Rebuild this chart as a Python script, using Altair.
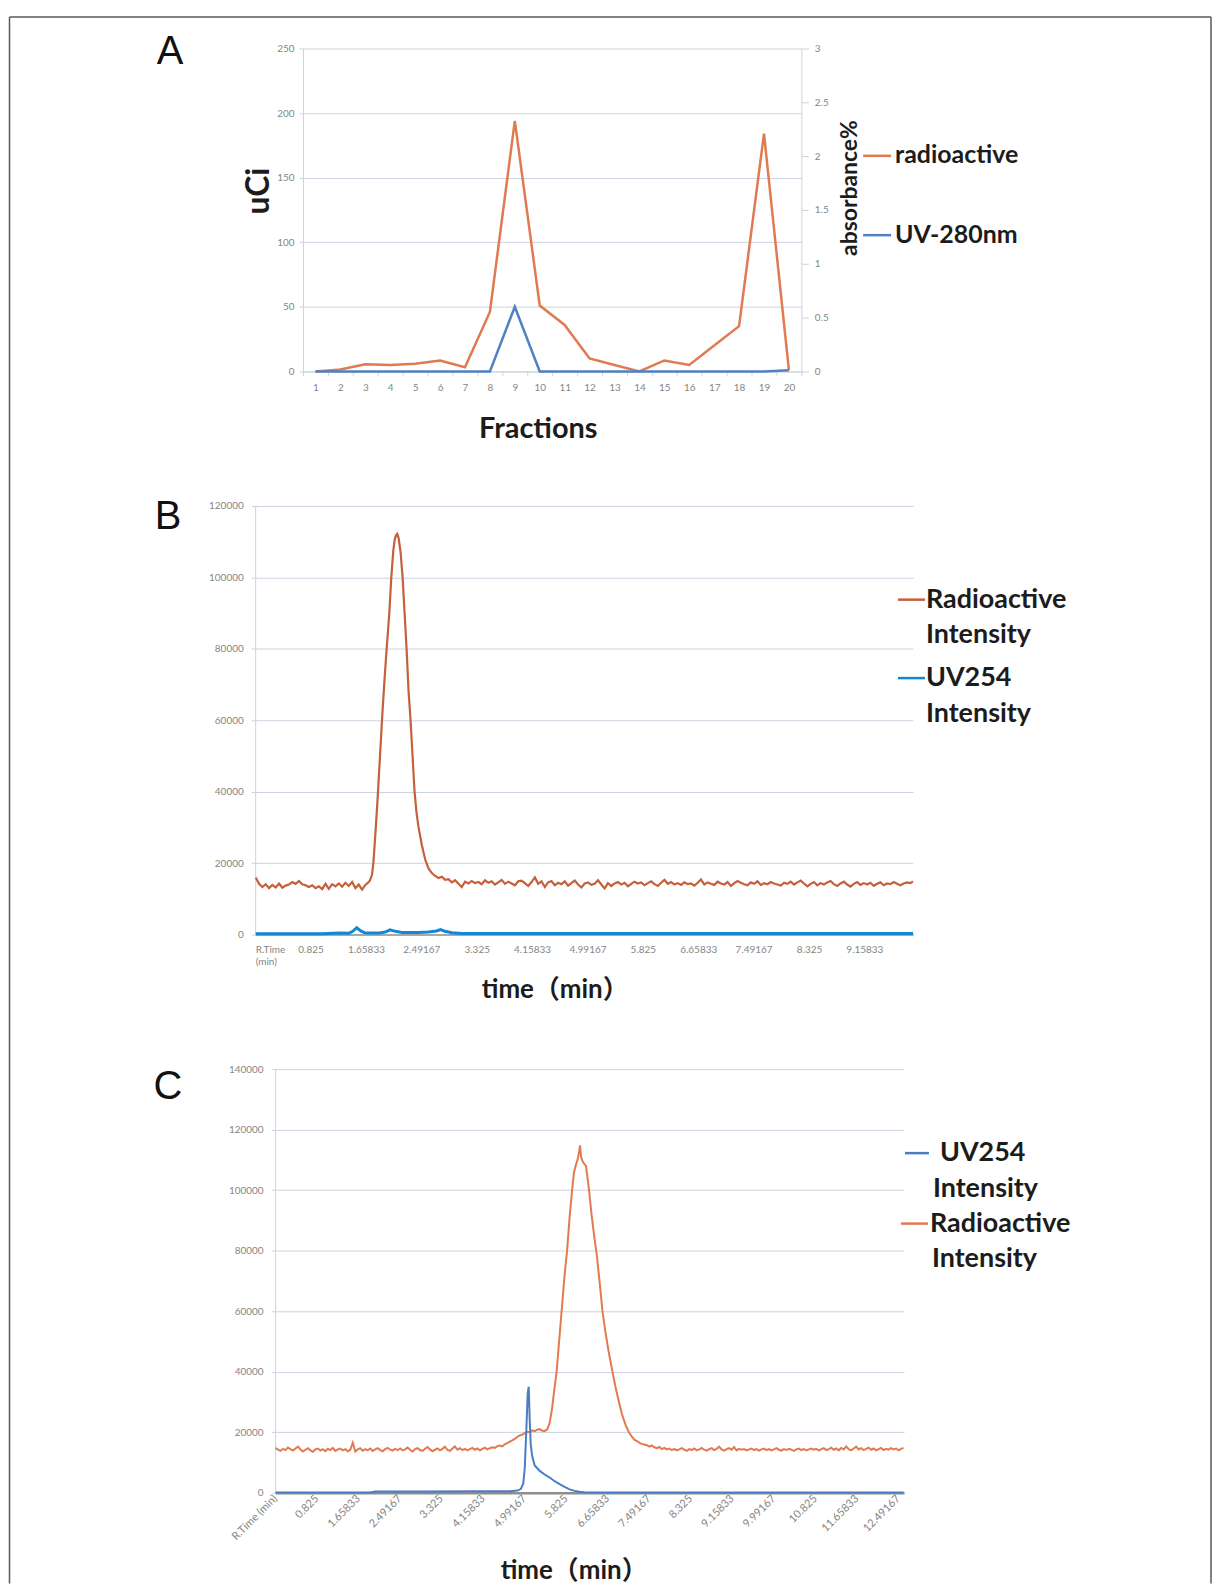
import altair as alt
import pandas as pd

# ---------------- Panel A : fractions ----------------
FRACTIONS = list(range(1, 21))
A_RADIOACTIVE = [0, 1.5, 5.5, 5, 6, 8.5, 3.3, 46, 194, 51, 36, 10, 5, 0, 8.5, 5, 20, 35, 184, 1]
A_UV280 = [0, 0, 0, 0, 0, 0, 0, 0, 0.6, 0, 0, 0, 0, 0, 0, 0, 0, 0, 0, 0.01]
A_UCI_TICKS = [0, 50, 100, 150, 200, 250]
A_ABS_TICKS = [0, 0.5, 1, 1.5, 2, 2.5, 3]

# ---------------- Panel B ----------------
B_TICK_LABELS = ["R.Time (min)", "0.825", "1.65833", "2.49167", "3.325", "4.15833",
                 "4.99167", "5.825", "6.65833", "7.49167", "8.325", "9.15833"]
B_Y_TICKS = [0, 20000, 40000, 60000, 80000, 100000, 120000]
B_RADIOACTIVE = [
    (0.00, 16000), (0.05, 14200), (0.10, 13300), (0.15, 14100), (0.20, 13000), (0.25, 13900),
    (0.30, 13200), (0.35, 14300), (0.40, 13100), (0.45, 13700), (0.50, 14000), (0.55, 14700),
    (0.60, 14200), (0.65, 15000), (0.70, 14100), (0.75, 13800), (0.80, 13300), (0.85, 13800),
    (0.90, 13000), (0.95, 13500), (1.00, 12700), (1.05, 14200), (1.10, 12800), (1.15, 14100),
    (1.20, 13500), (1.25, 14300), (1.30, 13400), (1.35, 14500), (1.40, 13600), (1.45, 14700),
    (1.50, 13000), (1.55, 14000), (1.60, 12600), (1.65, 13900), (1.70, 14700),
    (1.72, 15200), (1.75, 16800), (1.77, 20000), (1.80, 28000), (1.84, 40000), (1.87, 50000),
    (1.90, 60000), (1.94, 72000), (1.97, 80000), (2.01, 90000), (2.04, 100000), (2.07, 107500),
    (2.09, 110500), (2.11, 111800), (2.13, 112200), (2.15, 111000), (2.18, 107000), (2.21, 100000),
    (2.24, 90000), (2.27, 80000), (2.30, 68000), (2.33, 60000), (2.36, 50000), (2.39, 40000),
    (2.42, 34000), (2.45, 30000), (2.50, 25000), (2.55, 21000), (2.60, 18500), (2.65, 17200),
    (2.70, 16400), (2.75, 15800), (2.80, 16200), (2.85, 15300),
    (2.90, 15500), (2.95, 14600), (3.00, 15200), (3.05, 14200), (3.10, 13300), (3.15, 14800),
    (3.20, 14300), (3.25, 15000), (3.30, 14400), (3.35, 14700), (3.40, 14100), (3.45, 15200),
    (3.50, 14500), (3.55, 14900), (3.60, 14000), (3.65, 14600), (3.70, 15300), (3.75, 14200),
    (3.80, 14800), (3.85, 14300), (3.90, 13800), (3.95, 14900), (4.00, 15100), (4.05, 14400),
    (4.10, 13600), (4.15, 14700), (4.20, 16000), (4.25, 14200), (4.30, 14900), (4.35, 13300),
    (4.40, 14600), (4.45, 15000), (4.50, 13800), (4.55, 14500), (4.60, 14100), (4.65, 14900),
    (4.70, 13700), (4.75, 14400), (4.80, 15100), (4.85, 14000), (4.90, 13200), (4.95, 14300),
    (5.00, 14600), (5.05, 13900), (5.10, 14200), (5.15, 15200), (5.20, 14000), (5.25, 12900),
    (5.30, 14400), (5.35, 13600), (5.40, 14300), (5.45, 14700), (5.50, 14000), (5.55, 14500),
    (5.60, 13500), (5.65, 14200), (5.70, 14800), (5.75, 14300), (5.80, 14600), (5.85, 13800),
    (5.90, 14400), (5.95, 14900), (6.00, 14100), (6.05, 13600), (6.10, 14500), (6.15, 15300),
    (6.20, 14200), (6.25, 14700), (6.30, 14000), (6.35, 14400), (6.40, 13900), (6.45, 14600),
    (6.50, 14100), (6.55, 14300), (6.60, 13700), (6.65, 14500), (6.70, 15400), (6.75, 14000),
    (6.80, 14600), (6.85, 14200), (6.90, 13900), (6.95, 14800), (7.00, 14300), (7.05, 14000),
    (7.10, 14700), (7.15, 13600), (7.20, 14400), (7.25, 15000), (7.30, 14500), (7.35, 14100),
    (7.40, 13800), (7.45, 14600), (7.50, 14200), (7.55, 14900), (7.60, 13900), (7.65, 14400),
    (7.70, 14100), (7.75, 14700), (7.80, 14300), (7.85, 14000), (7.90, 13700), (7.95, 14500),
    (8.00, 14200), (8.05, 14800), (8.10, 14000), (8.15, 14600), (8.20, 15100), (8.25, 14300),
    (8.30, 13500), (8.35, 14200), (8.40, 14700), (8.45, 13800), (8.50, 14400), (8.55, 14000),
    (8.60, 14600), (8.65, 15000), (8.70, 14100), (8.75, 13600), (8.80, 14300), (8.85, 14800),
    (8.90, 14000), (8.95, 13400), (9.00, 14200), (9.05, 14700), (9.10, 13900), (9.15, 14400),
    (9.20, 14000), (9.25, 14500), (9.30, 13600), (9.35, 14200), (9.40, 14600), (9.45, 13800),
    (9.50, 14300), (9.55, 14100), (9.60, 14700), (9.65, 14200), (9.70, 13800), (9.75, 14300),
    (9.80, 14600), (9.85, 14400), (9.89, 14900),
]
B_UV254 = [
    (0.00, 250), (1.00, 250), (1.25, 400), (1.40, 350), (1.46, 900), (1.52, 1900), (1.58, 1000),
    (1.65, 400), (1.85, 400), (1.95, 700), (2.02, 1300), (2.10, 900), (2.20, 600), (2.45, 600),
    (2.60, 700), (2.72, 1000), (2.78, 1400), (2.85, 900), (2.95, 500), (3.10, 300), (9.89, 300),
]

# ---------------- Panel C ----------------
C_TICK_LABELS = ["R.Time (min)", "0.825", "1.65833", "2.49167", "3.325", "4.15833",
                 "4.99167", "5.825", "6.65833", "7.49167", "8.325", "9.15833",
                 "9.99167", "10.825", "11.65833", "12.49167"]
C_Y_TICKS = [0, 20000, 40000, 60000, 80000, 100000, 120000, 140000]
C_RADIOACTIVE = [
    (0.00, 14800), (0.05, 14200), (0.10, 13800), (0.15, 14500), (0.20, 14100), (0.25, 14900),
    (0.30, 14400), (0.35, 13900), (0.40, 14600), (0.45, 15200), (0.50, 14300), (0.55, 13600),
    (0.60, 14200), (0.65, 14700), (0.70, 14000), (0.75, 13500), (0.80, 14300), (0.85, 14600),
    (0.90, 13900), (0.95, 14400), (1.00, 13700), (1.05, 14500), (1.10, 14100), (1.15, 14800),
    (1.20, 13800), (1.25, 14300), (1.30, 14600), (1.35, 14000), (1.40, 14400), (1.45, 13700),
    (1.50, 14200), (1.55, 16500), (1.60, 13600), (1.65, 14300), (1.70, 14700), (1.75, 13900),
    (1.80, 14400), (1.85, 14000), (1.90, 14600), (1.95, 13800), (2.00, 14300), (2.05, 14700),
    (2.10, 14100), (2.15, 13700), (2.20, 14400), (2.25, 14800), (2.30, 14200), (2.35, 13900),
    (2.40, 14500), (2.45, 14100), (2.50, 14600), (2.55, 14000), (2.60, 14300), (2.65, 14900),
    (2.70, 14200), (2.75, 13600), (2.80, 14400), (2.85, 14700), (2.90, 14100), (2.95, 13800),
    (3.00, 14500), (3.05, 15100), (3.10, 14300), (3.15, 13700), (3.20, 14200), (3.25, 14600),
    (3.30, 14000), (3.35, 14500), (3.40, 15200), (3.45, 14100), (3.50, 13800), (3.55, 14600),
    (3.60, 15300), (3.65, 14200), (3.70, 14700), (3.75, 14100), (3.80, 14500), (3.85, 14000),
    (3.90, 14400), (3.95, 14800), (4.00, 14200), (4.05, 14600), (4.10, 14000), (4.15, 14500),
    (4.20, 14900), (4.25, 14300), (4.30, 14700), (4.35, 15000), (4.40, 14800),
    (4.45, 15400), (4.50, 15600), (4.55, 15300), (4.60, 16000), (4.65, 16400), (4.70, 16900),
    (4.75, 17300), (4.80, 17800), (4.85, 18400), (4.90, 18900), (4.95, 19200), (5.00, 19700),
    (5.05, 20100), (5.10, 20000), (5.15, 20600), (5.20, 20300), (5.25, 20800), (5.30, 21000),
    (5.35, 20500), (5.40, 20400), (5.45, 20900), (5.50, 23000), (5.55, 28000), (5.60, 35000),
    (5.64, 40000), (5.69, 50000), (5.74, 60000), (5.80, 72000), (5.85, 80000), (5.90, 91000),
    (5.95, 100000), (5.99, 106000), (6.03, 108500), (6.06, 110000), (6.09, 112500), (6.11, 114800),
    (6.13, 111000), (6.16, 109500), (6.20, 108500), (6.23, 108000), (6.26, 104000), (6.29, 100000),
    (6.34, 92000), (6.40, 84000), (6.45, 78000), (6.50, 70000), (6.56, 60000),
    (6.62, 53000), (6.68, 47000), (6.76, 40000), (6.82, 35000), (6.89, 30000), (6.95, 26000),
    (7.02, 22500), (7.09, 20000), (7.15, 18500), (7.20, 17500), (7.26, 17000), (7.32, 16300),
    (7.40, 15900), (7.45, 15700), (7.50, 15200), (7.55, 15600), (7.60, 15000), (7.65, 14700),
    (7.70, 15100), (7.75, 14400), (7.80, 14800), (7.85, 14300),
    (7.90, 14600), (7.95, 14100), (8.00, 14500), (8.05, 14000), (8.10, 14300), (8.15, 14700),
    (8.20, 14200), (8.25, 13800), (8.30, 14400), (8.35, 14100), (8.40, 14600), (8.45, 14000),
    (8.50, 14300), (8.55, 14800), (8.60, 14200), (8.65, 13900), (8.70, 14400), (8.75, 14700),
    (8.80, 14100), (8.85, 14500), (8.90, 15200), (8.95, 14300), (9.00, 13900), (9.05, 14400),
    (9.10, 14700), (9.15, 14200), (9.20, 15100), (9.25, 14000), (9.30, 14500), (9.35, 14200),
    (9.40, 14400), (9.45, 14000), (9.50, 14300), (9.55, 14600), (9.60, 14100), (9.65, 14400),
    (9.70, 13900), (9.75, 14300), (9.80, 14600), (9.85, 14100), (9.90, 14400), (9.95, 14000),
    (10.00, 14300), (10.05, 14700), (10.10, 14200), (10.15, 13900), (10.20, 14400), (10.25, 14100),
    (10.30, 14500), (10.35, 14200), (10.40, 13800), (10.45, 14300), (10.50, 14600), (10.55, 14100),
    (10.60, 14400), (10.65, 14000), (10.70, 14300), (10.75, 14600), (10.80, 14200), (10.85, 14500),
    (10.90, 13900), (10.95, 14400), (11.00, 14700), (11.05, 14100), (11.10, 14400), (11.15, 14900),
    (11.20, 14200), (11.25, 14600), (11.30, 14000), (11.35, 14800), (11.40, 14300), (11.45, 15300),
    (11.50, 14400), (11.55, 14000), (11.60, 14600), (11.65, 15200), (11.70, 14300), (11.75, 14700),
    (11.80, 14100), (11.85, 14500), (11.90, 14900), (11.95, 14200), (12.00, 14600), (12.05, 14000),
    (12.10, 14400), (12.15, 14800), (12.20, 14100), (12.25, 14500), (12.30, 14200), (12.35, 14700),
    (12.40, 14300), (12.45, 14600), (12.50, 14000), (12.55, 14500), (12.60, 14800),
]
C_UV254 = [
    (0.00, 100), (1.90, 100), (2.00, 400), (3.00, 400), (4.00, 450), (4.70, 500), (4.85, 700),
    (4.92, 1200), (4.97, 3000), (5.00, 8000), (5.03, 20000), (5.06, 33000), (5.08, 35000),
    (5.10, 24000), (5.12, 16000), (5.15, 12000), (5.20, 9000), (5.30, 7200), (5.40, 6000),
    (5.50, 5000), (5.60, 3800), (5.70, 2800), (5.80, 1900), (5.90, 1100), (6.00, 600),
    (6.10, 300), (6.20, 150), (6.40, 100), (12.60, 100),
]

# ---------------- styling ----------------
GRID = "#CAD3E0"
LABEL = "#858585"
TXT = "#1c1c1c"
BOLD = "Lato, 'Noto Sans CJK SC', sans-serif"
ORANGE_A, BLUE_A = "#E07A50", "#4F81C4"
ORANGE_B, BLUE_B = "#C4603C", "#1187D6"
ORANGE_C, BLUE_C = "#E3794F", "#4A7DC4"
ONE = alt.Data(values=[{}])

# all panels share one left origin; A and C shift their plot area right inside it
SHIFT_A = 48
SHIFT_C = 20


def text(s, x, y, size, angle=0, align="left", weight="bold", font=BOLD, color=TXT,
         baseline="middle"):
    return alt.Chart(ONE).mark_text(
        text=s, fontSize=size, angle=angle, align=align, baseline=baseline,
        font=font, fontWeight=weight, color=color,
    ).encode(x=alt.value(x), y=alt.value(y))


def letter(s, x, y):
    return text(s, x, y, 40, align="center", weight="normal", font="Liberation Sans",
                color="#111", baseline="alphabetic")


def key(x1, x2, y, color):
    return alt.Chart(ONE).mark_rule(color=color, strokeWidth=2.5).encode(
        x=alt.value(x1), x2=alt.value(x2), y=alt.value(y))


def time_label_expr(labels, first):
    items = [first] + ["'%s'" % s for s in labels[1:]]
    return "[" + ",".join(items) + "][round((datum.value+0.00833)/0.83333)]"


def time_ticks(labels):
    return [-0.00833] + [float(s) for s in labels[1:]]


# ---------------- Panel A chart ----------------
dfA = pd.DataFrame({"frac": FRACTIONS, "radio": A_RADIOACTIVE, "uv": A_UV280})
xA = alt.X("frac:O",
           scale=alt.Scale(type="band", paddingInner=0, paddingOuter=0,
                           range=[SHIFT_A, SHIFT_A + 500]),
           axis=alt.Axis(title=None, labelAngle=0, tickBand="extent", tickSize=4,
                         labelPadding=7, domainColor=GRID, tickColor=GRID))
radioA = alt.Chart(dfA).mark_line(color=ORANGE_A, strokeWidth=2.5).encode(
    x=xA,
    y=alt.Y("radio:Q", scale=alt.Scale(domain=[0, 250], nice=False),
            axis=alt.Axis(values=A_UCI_TICKS, title=None, grid=True, tickSize=4,
                          labelPadding=5, offset=-SHIFT_A)))
uvA = alt.Chart(dfA).mark_line(color=BLUE_A, strokeWidth=2.5).encode(
    x=xA,
    y=alt.Y("uv:Q", scale=alt.Scale(domain=[0, 3], nice=False),
            axis=alt.Axis(values=A_ABS_TICKS, orient="right", title=None, grid=False,
                          format="~g", tickSize=7, labelPadding=6)))

ax = SHIFT_A
frame = [
    alt.Chart(ONE).mark_rule(color="#5a5a5a", strokeWidth=1.5).encode(
        x=alt.value(-246.5), x2=alt.value(959), y=alt.value(-31.5)),
    alt.Chart(ONE).mark_rule(color="#5a5a5a", strokeWidth=1.5).encode(
        x=alt.value(-246.5), y=alt.value(-31.5), y2=alt.value(1540)),
    alt.Chart(ONE).mark_rule(color="#5a5a5a", strokeWidth=1.5).encode(
        x=alt.value(959), y=alt.value(-31.5), y2=alt.value(1540)),
]
panelA = alt.layer(
    alt.layer(radioA, uvA).resolve_scale(y="independent"),
    letter("A", -85.5, 16),
    text("uCi", ax - 44, 143, 32, angle=270, align="center"),
    text("absorbance%", ax + 549, 140, 23, angle=270, align="center"),
    text("Fractions", ax + 236, 382, 29, align="center"),
    key(ax + 562, ax + 590, 107.7, ORANGE_A), text("radioactive", ax + 594, 106.7, 25),
    key(ax + 562, ax + 590, 187.3, BLUE_A), text("UV-280nm", ax + 594, 187, 25),
    *frame,
).properties(width=SHIFT_A + 500, height=324)

# ---------------- Panel B chart ----------------
dfBr = pd.DataFrame(B_RADIOACTIVE, columns=["t", "v"])
dfBu = pd.DataFrame(B_UV254, columns=["t", "v"])
xB = alt.X("t:Q", scale=alt.Scale(domain=[-0.00833, 9.89], nice=False, zero=False),
           axis=alt.Axis(title=None, values=time_ticks(B_TICK_LABELS),
                         labelExpr=time_label_expr(B_TICK_LABELS, "['R.Time','(min)']"),
                         labelOverlap=False,
                         ticks=False, tickSize=0, labelPadding=10, domainColor="#A8A8A8",
                         domainWidth=2, grid=False, labelLineHeight=12))
yB = alt.Y("v:Q", scale=alt.Scale(domain=[0, 120000], nice=False),
           axis=alt.Axis(title=None, values=B_Y_TICKS, format="d", grid=True, tickSize=4,
                         labelPadding=8))
panelB = alt.layer(
    alt.Chart(dfBr).mark_line(color=ORANGE_B, strokeWidth=2.2).encode(x=xB, y=yB),
    alt.Chart(dfBu).mark_line(color=BLUE_B, strokeWidth=3).encode(x=xB, y=yB),
    letter("B", -87.5, 23),
    text("time（min）", 301, 486, 26, align="center"),
    key(645, 672, 94, ORANGE_B), text("Radioactive", 673, 94.5, 27),
    text("Intensity", 673, 129.5, 27),
    key(645, 672, 172.7, BLUE_B), text("UV254", 673, 172.7, 27),
    text("Intensity", 673, 209, 27),
).properties(width=660, height=430)

# ---------------- Panel C chart ----------------
dfCr = pd.DataFrame(C_RADIOACTIVE, columns=["t", "v"])
dfCu = pd.DataFrame(C_UV254, columns=["t", "v"])
cx = SHIFT_C
xC = alt.X("t:Q", scale=alt.Scale(domain=[-0.00833, 12.61], nice=False, zero=False,
                                  range=[SHIFT_C, SHIFT_C + 631]),
           axis=alt.Axis(title=None, values=time_ticks(C_TICK_LABELS),
                         labelExpr=time_label_expr(C_TICK_LABELS, "'R.Time (min)'"),
                         labelAngle=-45, labelAlign="right", labelBaseline="middle",
                         labelFontSize=11, labelOverlap=False,
                         ticks=False, tickSize=0, labelPadding=4, domainColor="#8E8E8E",
                         domainWidth=2.5, grid=False))
yC = alt.Y("v:Q", scale=alt.Scale(domain=[0, 140000], nice=False),
           axis=alt.Axis(title=None, values=C_Y_TICKS, format="d", grid=True, tickSize=4,
                         labelPadding=8, offset=-SHIFT_C))
panelC = alt.layer(
    alt.Chart(dfCr).mark_line(color=ORANGE_C, strokeWidth=2).encode(x=xC, y=yC),
    alt.Chart(dfCu).mark_line(color=BLUE_C, strokeWidth=2).encode(x=xC, y=yC),
    letter("C", -87.5, 30),
    text("time（min）", cx + 300, 504, 26, align="center"),
    key(cx + 632, cx + 656, 84.3, BLUE_C), text("UV254", cx + 667, 84.3, 27),
    text("Intensity", cx + 660, 120, 27),
    key(cx + 628, cx + 655, 155, ORANGE_C), text("Radioactive", cx + 657, 155, 27),
    text("Intensity", cx + 659, 191, 27),
).properties(width=SHIFT_C + 631, height=425)

chart = alt.vconcat(panelA, panelB, panelC, spacing=135, bounds="flush").properties(
    padding={"left": 0, "top": 5, "right": 0, "bottom": 0}
).configure_view(stroke=None).configure_axis(
    labelFont="Lato", labelFontSize=10, labelColor=LABEL,
    domainColor=GRID, tickColor=GRID, gridColor=GRID, gridWidth=1,
)

chart.save("out.html", embed_options={"renderer": "svg", "actions": False})
